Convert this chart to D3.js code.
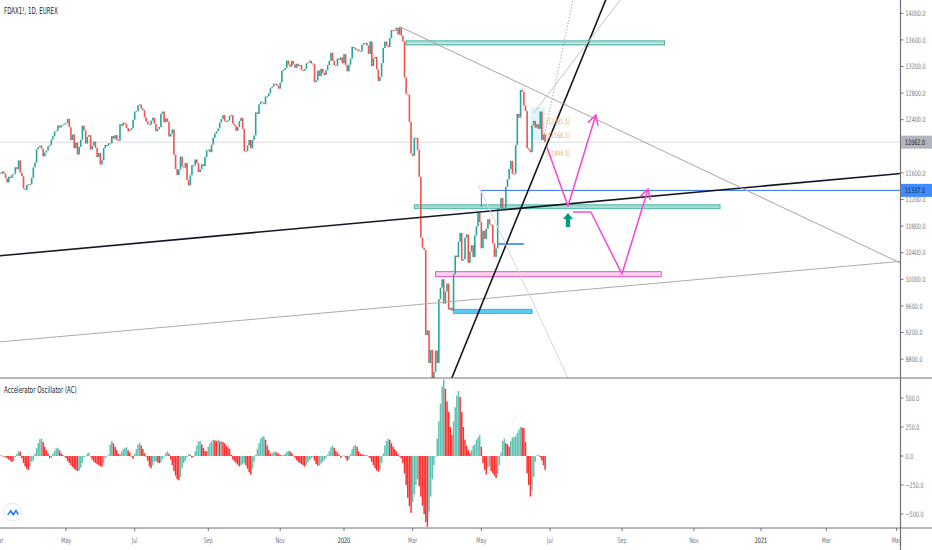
<!DOCTYPE html>
<html>
<head>
<meta charset="utf-8">
<style>
body { margin: 0; background: #fff; }
svg { display: block; font-family: "Liberation Sans Narrow", "DejaVu Sans Condensed", Roboto, sans-serif; }
</style>
</head>
<body>
<script src="https://cdnjs.cloudflare.com/ajax/libs/d3/7.8.5/d3.min.js"></script>
<script>

// FDAX1!, 1D — one row per week (Mon..Fri), null = exchange holiday
var firstMonday = "2019-02-25",
    lastDay = "2021-05-08";

var holidays = ["2019-04-19", "2019-04-22", "2019-05-01", "2019-12-24", "2019-12-25", "2019-12-26",
  "2019-12-31", "2020-01-01", "2020-04-10", "2020-04-13", "2020-05-01", "2020-12-24", "2020-12-25",
  "2020-12-31", "2021-01-01", "2021-04-02", "2021-04-05"];

var closeRows = [
  [11505, 11540, 11487, 11515, 11602], [11592, 11620, 11588, 11518, 11458],
  [11543, 11524, 11572, 11587, 11686], [11657, 11789, 11603, 11550, 11364],
  [11346, 11419, 11429, 11428, 11526], [11682, 11754, 11954, 11988, 12010],
  [11963, 11850, 11905, 11935, 11999], [12020, 12101, 12153, 12222, null],
  [null, 12236, 12313, 12282, 12315], [12328, 12344, null, 12346, 12412],
  [12286, 12092, 12179, 11973, 12059], [11876, 11991, 12099, 12310, 12238],
  [12041, 12143, 12168, 11952, 12011], [12071, 11977, 11837, 11902, 11726],
  [11792, 11971, 12021, 12010, 12045], [12045, 12155, 12116, 12169, 12096],
  [12086, 12331, 12309, 12356, 12340], [12274, 12228, 12245, 12271, 12399],
  [12521, 12528, 12616, 12629, 12568], [12543, 12436, 12373, 12332, 12323],
  [12387, 12430, 12342, 12227, 12260], [12290, 12490, 12522, 12362, 12419],
  [12368, 12147, 12189, 12253, 11872], [11658, 11567, 11650, 11845, 11693],
  [11680, 11750, 11492, 11412, 11563], [11715, 11712, 11802, 11747, 11612],
  [11658, 11730, 11701, 11838, 11939], [11953, 11911, 12025, 12127, 12192],
  [12226, 12268, 12360, 12410, 12469], [12381, 12372, 12390, 12457, 12468],
  [12342, 12308, 12234, 12288, 12381], [12428, 12263, 11925, 11926, 12013],
  [12097, 11970, 12094, 12164, 12511], [12486, 12630, 12670, 12654, 12633],
  [12748, 12754, 12798, 12872, 12894], [12941, 12940, 12910, 12867, 12961],
  [13136, 13148, 13179, 13289, 13228], [13198, 13283, 13230, 13180, 13241],
  [13207, 13221, 13149, 13137, 13163], [13246, 13262, 13287, 13245, 13236],
  [12965, 12989, 13140, 13055, 13166], [13105, 13071, 13145, 13222, 13283],
  [13407, 13288, 13222, 13212, 13319], [13300, null, null, null, 13337],
  [13249, null, null, 13386, 13219], [13127, 13227, 13321, 13495, 13483],
  [13452, 13457, 13432, 13430, 13526], [13549, 13556, 13515, 13389, 13577],
  [13205, 13324, 13345, 13158, 12982], [13046, 13250, 13479, 13575, 13514],
  [13494, 13628, 13750, 13745, 13744], [13784, 13681, 13789, 13665, 13579],
  [13035, 12791, 12775, 12368, 11890], [11857, 12128, 12127, 11945, 11542],
  [10625, 10475, 10439, 9161, 9232], [8742, 8939, 8441, 8610, 8929],
  [8742, 9701, 9875, 10000, 9633], [9816, 9936, 9544, 9571, 9526],
  [10075, 10357, 10333, 10565, null], [null, 10697, 10280, 10302, 10626],
  [10676, 10250, 10416, 10514, 10336], [10660, 10796, 10999, 10862, null],
  [10467, 10730, 10607, 10760, 10904], [10825, 10820, 10542, 10338, 10465],
  [11058, 11075, 11223, 11066, 11074], [11391, 11505, 11657, 11782, 11587],
  [11586, 12021, 12487, 12431, 12848], [12820, 12613, 12530, 11970, 11949],
  [11911, 12315, 12382, 12281, 12331], [12262, 12523, 12093, 12178, 12062]
];

// Accelerator Oscillator, same week rows
var acRows = [
  [5, 5, 5, 5, 5], [5, 3, 0, -10, -20], [-30, -40, -52, -45, -10], [20, 43, 35, -20, -60],
  [-90, -110, -120, -90, -50], [-40, 20, 70, 110, 145], [150, 120, 80, 50, 20], [-20, -15, 20, 45, null],
  [null, 65, 72, 50, 25], [10, 0, null, -20, -45], [-60, -80, -95, -110, -120], [-130, -125, -100, -60, -10],
  [-5, 20, 30, 0, -30], [-50, -60, -70, -80, -88], [-92, -60, -20, 0, 10], [100, 130, 110, 80, 50],
  [20, 10, 40, 60, 70], [75, 50, 30, 0, -25], [20, 60, 100, 115, 90], [60, 25, 0, -40, -90],
  [-106, -80, -50, -45, -55], [-62, -55, -30, 0, 25], [40, 20, -30, -80, -130], [-170, -200, -210, -180, -100],
  [-60, -40, -10, 15, 10], [-15, -10, 40, 90, 125], [130, 100, 70, 45, 40], [80, 110, 125, 140, 135],
  [130, 140, 125, 130, 120], [110, 90, 75, 60, 10], [-30, -45, -60, -75, -90], [-80, -70, -60, -80, -110],
  [-140, -160, -110, -50, 10], [60, 110, 150, 165, 170], [140, 90, 50, 20, 25], [35, 40, 30, 20, 10],
  [5, 10, 20, 35, 45], [40, 25, 5, -15, -35], [-50, -60, -70, -80, -90], [-75, -55, -35, -20, -10],
  [-40, -70, -85, -80, -65], [-50, -35, -20, 10, 40], [75, 90, 70, 45, 30], [10, null, null, null, -15],
  [-5, null, null, 5, -15], [-40, -30, 20, 60, 85], [95, 80, 40, 20, 15], [10, 5, 10, 0, -20],
  [-50, -80, -105, -125, -135], [-120, -60, 20, 90, 130], [150, 140, 110, 80, 60], [40, 15, -5, -20, -60],
  [-150, -250, -360, -430, -490], [-400, -330, -250, -200, -260], [-350, -430, -500, -570, -610], [-480, -350, -200, -80, 0],
  [150, 300, 450, 600, 660], [580, 470, 380, 250, 180], [300, 420, 520, 560, null], [null, 510, 380, 250, 140],
  [90, 50, 25, 50, 90], [100, 140, 160, 180, null], [80, -60, -120, -160, -100], [-90, -130, -150, -170, -190],
  [-150, -80, 30, 130, 150], [110, 100, 80, 130, 160], [165, 170, 200, 230, 250], [245, 240, 120, -150, -250],
  [-350, -300, -180, -50, 5], [10, -10, -40, -80, -120]
];

var priceTicks = [8800, 9200, 9600, 10000, 10400, 10800, 11200, 11600, 12000, 12400, 12800, 13200, 13600, 14000];
var acTicks = [-500, -250, 0, 250, 500];
var monthTicks = ["2019-03", "2019-05", "2019-07", "2019-09", "2019-11", "2020-01", "2020-03",
  "2020-05", "2020-07", "2020-09", "2020-11", "2021-01", "2021-03", "2021-05"];
var lastPrice = 12062, alertPrice = 11337;

// drawings on the chart (date, price)
var fullLines = [   // extended both ways
  {a: ["2019-03-01", 10353], b: ["2020-07-28", 11152], color: "#131722", w: 1.6},
  {a: ["2019-03-01", 9057], b: ["2020-07-28", 9840], color: "#ababab", w: 1},
  {a: ["2020-04-03", 8520], b: ["2020-06-19", 11660], color: "#131722", w: 1.6}
];
var rays = [        // from a, through b, to the right
  {a: ["2020-02-19", 13800], b: ["2020-06-16", 12860], color: "#a6a6a6", w: 1},
  {a: ["2020-06-17", 12500], b: ["2020-08-31", 14200], color: "#c4c4c4", w: 1},
  {a: ["2020-06-25", 12094], b: ["2020-07-21", 14200], color: "#a0a0a0", w: 1, dash: "1.2,2"},
  {a: ["2020-04-29", 11420], b: ["2020-07-16", 8516], color: "#d6d6d6", w: 1}
];
var zones = [
  {from: "2020-02-25", to: "2020-10-07", lo: 13525, hi: 13585, fill: "#b9e3dd", stroke: "#3fae9f"},
  {from: "2020-03-03", to: "2020-11-24", lo: 11062, hi: 11120, fill: "#a6dbd3", stroke: "#4db6a8"},
  {from: "2020-03-20", to: "2020-10-05", lo: 10040, hi: 10115, fill: "#fbd3ee", stroke: "#ea55c4"},
  {from: "2020-04-06", to: "2020-06-16", lo: 9485, hi: 9548, fill: "#5cc6f5", stroke: "#36b3ef"},
  {from: "2020-06-15", to: "2020-06-26", lo: 12094, hi: 12590, fill: "rgba(128,222,234,0.28)", stroke: "none"}
];
var pinkPaths = [
  [["2020-06-29", 11994], ["2020-07-16", 11103], ["2020-08-10", 12471]],
  [["2020-07-21", 11012], ["2020-08-05", 11012], ["2020-09-01", 10080], ["2020-09-23", 11358]]
];
var greenArrow = {date: "2020-07-16", tip: 10997, base: 10787};
var fibLabels = [12381.5, 12166.5, 11899.5];

var width = 932, height = 550,
    axisX = 900.5, paneBottom = 378, oscBottom = 528;

var parse = d3.utcParse("%Y-%m-%d"),
    key = d3.utcFormat("%Y-%m-%d");

var weekdays = d3.utcDays(parse(firstMonday), parse(lastDay)).filter(function(d) {
  var wd = d.getUTCDay();
  return wd > 0 && wd < 6;
});
var tradingDays = weekdays.filter(function(d) { return holidays.indexOf(key(d)) < 0; });
var barIndex = {};
tradingDays.forEach(function(d, i) { barIndex[key(d)] = i; });

// first trading bar on or after a date
function ix(s) {
  var d = parse(s.length === 7 ? s + "-01" : s);
  while (barIndex[key(d)] === undefined) d = d3.utcDay.offset(d, 1);
  return barIndex[key(d)];
}

var x = d3.scaleLinear().domain([ix("2019-03-01"), ix("2020-01-02")]).range([-1, 344]);
var y = d3.scaleLinear().domain([8800, 14000]).range([359.1, 13.3]);
var yAc = d3.scaleLinear().domain([-500, 500]).range([514, 398]);

var closes = d3.merge(closeRows), acs = d3.merge(acRows);
var bars = [], prevClose = null, prevAc = null;
weekdays.slice(0, closes.length).forEach(function(d, k) {
  var c = closes[k];
  if (c == null) return;
  var a = acs[k];
  bars.push({
    i: barIndex[key(d)],
    open: prevClose == null ? c : prevClose,
    close: c,
    ac: a,
    acUp: prevAc == null || a >= prevAc
  });
  prevClose = c;
  prevAc = a;
});

var svg = d3.select("body").append("svg")
    .attr("width", width)
    .attr("height", height);

var defs = svg.append("defs");
defs.append("clipPath").attr("id", "clipPrice")
  .append("rect").attr("x", 0).attr("y", 0).attr("width", axisX).attr("height", paneBottom);
defs.append("clipPath").attr("id", "clipOsc")
  .append("rect").attr("x", 0).attr("y", paneBottom).attr("width", axisX).attr("height", oscBottom - paneBottom);
defs.append("clipPath").attr("id", "clipTime")
  .append("rect").attr("x", 0).attr("y", oscBottom).attr("width", axisX).attr("height", height - oscBottom);

var price = svg.append("g").attr("clip-path", "url(#clipPrice)");

// last price line
price.append("line")
  .attr("x1", 0).attr("x2", axisX)
  .attr("y1", y(lastPrice)).attr("y2", y(lastPrice))
  .attr("stroke", "#d9d9d9").attr("stroke-width", 1);

function pt(p) { return [x(ix(p[0])), y(p[1])]; }

function extendTo(p0, p1, xTarget) {
  var k = (p1[1] - p0[1]) / (p1[0] - p0[0]);
  return [xTarget, p0[1] + k * (xTarget - p0[0])];
}

// zones
zones.forEach(function(z) {
  price.append("rect")
    .attr("x", x(ix(z.from)))
    .attr("width", x(ix(z.to)) - x(ix(z.from)))
    .attr("y", y(z.hi))
    .attr("height", y(z.lo) - y(z.hi))
    .attr("fill", z.fill)
    .attr("stroke", z.stroke)
    .attr("stroke-width", 1);
});

// candles
price.append("g").selectAll("rect")
  .data(bars)
  .enter().append("rect")
    .attr("x", function(d) { return x(d.i) - 0.8; })
    .attr("width", 1.6)
    .attr("y", function(d) { return y(Math.max(d.open, d.close)); })
    .attr("height", function(d) { return Math.max(1, Math.abs(y(d.open) - y(d.close))); })
    .attr("fill", function(d) { return d.close >= d.open ? "#26a69a" : "#ef5350"; });

// alert / level lines
price.append("line")
  .attr("x1", x(ix("2020-05-04"))).attr("x2", axisX)
  .attr("y1", y(alertPrice)).attr("y2", y(alertPrice))
  .attr("stroke", "#2f6ff5").attr("stroke-width", 1);
price.append("line")
  .attr("x1", x(ix("2020-05-04"))).attr("x2", x(ix("2020-05-04")))
  .attr("y1", y(alertPrice)).attr("y2", y(11090))
  .attr("stroke", "#2f6ff5").attr("stroke-width", 1);
price.append("line")
  .attr("x1", x(ix("2020-05-18"))).attr("x2", x(ix("2020-06-09")))
  .attr("y1", y(10531)).attr("y2", y(10531))
  .attr("stroke", "#5b9cf6").attr("stroke-width", 2);

// trend lines
fullLines.forEach(function(l) {
  var a = pt(l.a), b = pt(l.b);
  var s = extendTo(a, b, -10), e = extendTo(a, b, axisX + 10);
  price.append("line")
    .attr("x1", s[0]).attr("y1", s[1]).attr("x2", e[0]).attr("y2", e[1])
    .attr("stroke", l.color).attr("stroke-width", l.w);
});
rays.forEach(function(l) {
  var a = pt(l.a), b = pt(l.b);
  var e = extendTo(a, b, axisX + 10);
  price.append("line")
    .attr("x1", a[0]).attr("y1", a[1]).attr("x2", e[0]).attr("y2", e[1])
    .attr("stroke", l.color).attr("stroke-width", l.w)
    .attr("stroke-dasharray", l.dash || null);
});

// fib-like labels
price.selectAll(".fib")
  .data(fibLabels)
  .enter().append("text")
    .attr("class", "fib")
    .attr("x", x(ix("2020-06-26")) + 1)
    .attr("y", function(d) { return y(d); })
    .attr("dy", "0.35em")
    .attr("font-size", 7.5)
    .attr("fill", "#f5a869")
    .text(function(d) { return "(" + d3.format(".1f")(d) + ")"; });

// pink scenario arrows
var line = d3.line();
pinkPaths.forEach(function(p) {
  var pts = p.map(pt);
  price.append("path")
    .attr("d", line(pts))
    .attr("fill", "none")
    .attr("stroke", "#f24fd3")
    .attr("stroke-width", 1.6)
    .attr("stroke-linejoin", "round");
  var e = pts[pts.length - 1], s = pts[pts.length - 2];
  var ang = Math.atan2(e[1] - s[1], e[0] - s[0]), len = 11, spread = 0.5;
  var w1 = [e[0] - len * Math.cos(ang - spread), e[1] - len * Math.sin(ang - spread)];
  var w2 = [e[0] - len * Math.cos(ang + spread), e[1] - len * Math.sin(ang + spread)];
  price.append("path")
    .attr("d", line([w1, e, w2]))
    .attr("fill", "none")
    .attr("stroke", "#f24fd3")
    .attr("stroke-width", 1.6);
});

// green up arrow
(function() {
  var cx = x(ix(greenArrow.date)), t = y(greenArrow.tip), b = y(greenArrow.base);
  var hh = 6, hw = 5, sw = 2.2;
  price.append("path")
    .attr("d", "M" + cx + "," + t +
      "L" + (cx + hw) + "," + (t + hh) +
      "L" + (cx + sw) + "," + (t + hh) +
      "L" + (cx + sw) + "," + b +
      "L" + (cx - sw) + "," + b +
      "L" + (cx - sw) + "," + (t + hh) +
      "L" + (cx - hw) + "," + (t + hh) + "Z")
    .attr("fill", "#089981");
})();

// oscillator
var osc = svg.append("g").attr("clip-path", "url(#clipOsc)");
osc.selectAll("rect")
  .data(bars.filter(function(d) { return d.ac != null; }))
  .enter().append("rect")
    .attr("x", function(d) { return x(d.i) - 0.75; })
    .attr("width", 1.5)
    .attr("y", function(d) { return Math.min(yAc(0), yAc(d.ac)); })
    .attr("height", function(d) { return Math.max(0.6, Math.abs(yAc(d.ac) - yAc(0))); })
    .attr("fill", function(d) { return d.acUp ? "#63c1b4" : "#ff2f2f"; });

// frame lines
svg.append("line").attr("x1", 0).attr("x2", width).attr("y1", paneBottom).attr("y2", paneBottom)
  .attr("stroke", "#6f727d").attr("stroke-width", 1.2);
svg.append("line").attr("x1", 0).attr("x2", width).attr("y1", oscBottom).attr("y2", oscBottom)
  .attr("stroke", "#6f727d").attr("stroke-width", 1.2);
svg.append("line").attr("x1", axisX).attr("x2", axisX).attr("y1", 0).attr("y2", height)
  .attr("stroke", "#6f727d").attr("stroke-width", 1.2);

// right price scale (the label under the last-price badge is hidden, as on the chart)
var pAxis = svg.append("g");
pAxis.selectAll("g")
  .data(priceTicks)
  .enter().append("g")
    .attr("transform", function(d) { return "translate(" + axisX + "," + y(d) + ")"; })
    .each(function(d) {
      var g = d3.select(this);
      g.append("line").attr("x1", 0).attr("x2", 3).attr("stroke", "#6f727d");
      if (Math.abs(y(d) - y(lastPrice)) < 7) return;
      g.append("text").attr("x", 5).attr("dy", "0.35em")
        .attr("font-size", 7.5).attr("fill", "#787b86")
        .text(d3.format(".1f")(d));
    });

var aAxis = svg.append("g");
aAxis.selectAll("g")
  .data(acTicks)
  .enter().append("g")
    .attr("transform", function(d) { return "translate(" + axisX + "," + yAc(d) + ")"; })
    .each(function(d) {
      var g = d3.select(this);
      g.append("line").attr("x1", 0).attr("x2", 3).attr("stroke", "#6f727d");
      g.append("text").attr("x", 5).attr("dy", "0.35em")
        .attr("font-size", 7.5).attr("fill", "#787b86")
        .text(d3.format(".1f")(d).replace("-", "\u2212"));
    });

// price badges
function badge(v, bg, fg) {
  var g = svg.append("g").attr("transform", "translate(" + (axisX + 0.5) + "," + y(v) + ")");
  g.append("rect").attr("x", 0).attr("y", -6.5).attr("width", width - axisX).attr("height", 13).attr("fill", bg);
  g.append("text").attr("x", 4).attr("dy", "0.35em").attr("font-size", 7.5).attr("fill", fg)
    .text(d3.format(".1f")(v));
}
badge(lastPrice, "#b2b5be", "#131722");
badge(alertPrice, "#3f8cff", "#0c1a4a");

// time scale
var tAxis = svg.append("g").attr("clip-path", "url(#clipTime)");
var monthFmt = d3.utcFormat("%b"), yearFmt = d3.utcFormat("%Y");
monthTicks.forEach(function(m) {
  var xi = x(ix(m)), d = parse(m + "-01");
  var isYear = d.getUTCMonth() === 0;
  tAxis.append("line").attr("x1", xi).attr("x2", xi).attr("y1", oscBottom).attr("y2", oscBottom + 3)
    .attr("stroke", "#6f727d");
  tAxis.append("text")
    .attr("x", xi).attr("y", 543)
    .attr("text-anchor", "middle")
    .attr("font-size", 7.5)
    .attr("fill", isYear ? "#131722" : "#787b86")
    .text(isYear ? yearFmt(d) : monthFmt(d));
});

// titles
svg.append("text").attr("x", 4).attr("y", 14).attr("font-size", 8.5).attr("fill", "#131722")
  .text("FDAX1!, 1D, EUREX");
svg.append("text").attr("x", 4).attr("y", 393).attr("font-size", 8.5).attr("fill", "#131722")
  .text("Accelerator Oscillator (AC)");

// logo
var logo = svg.append("g").attr("transform", "translate(13,512)");
logo.append("circle").attr("r", 9).attr("fill", "#fff").attr("stroke", "#e6e8ee");
logo.append("path")
  .attr("d", "M-6,3 L-2.5,-2.5 L0.5,1 L3,-3 L6,2 L4.5,3 L3,0 L0.5,4 L-2.5,0.5 L-4.5,3 Z")
  .attr("fill", "#2e7bf6");

// the chart font is a narrow one: squeeze every label horizontally
svg.selectAll("text").each(function() {
  var len = this.getComputedTextLength();
  d3.select(this).attr("textLength", len * 0.72).attr("lengthAdjust", "spacingAndGlyphs");
});

</script>
</body>
</html>
